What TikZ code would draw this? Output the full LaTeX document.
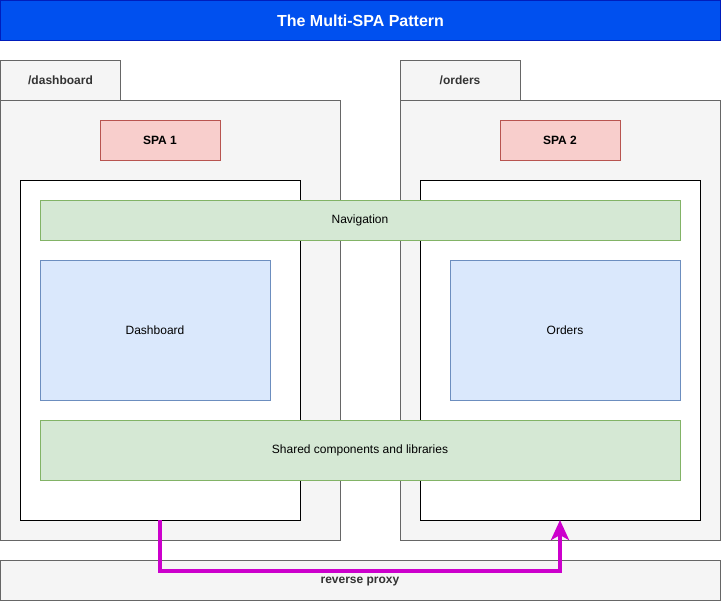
\documentclass[tikz,border=0pt]{standalone}
\usepackage{fontspec}
\setmainfont{Liberation Sans}
\usetikzlibrary{arrows.meta}
\definecolor{titlefill}{HTML}{0050EF}
\definecolor{titledraw}{HTML}{001DBC}
\definecolor{grayfill}{HTML}{F5F5F5}
\definecolor{graydraw}{HTML}{666666}
\definecolor{redfill}{HTML}{F8CECC}
\definecolor{reddraw}{HTML}{B85450}
\definecolor{greenfill}{HTML}{D5E8D4}
\definecolor{greendraw}{HTML}{82B366}
\definecolor{bluefill}{HTML}{DAE8FC}
\definecolor{bluedraw}{HTML}{6C8EBF}
\definecolor{magentaline}{HTML}{CC00CC}
\definecolor{darktext}{HTML}{333333}
\tikzset{
  box/.style={rectangle, inner sep=0pt, outer sep=0pt, line width=0.8pt, anchor=north west, font=\fontsize{12}{14}\selectfont},
  graybox/.style={box, fill=grayfill, draw=graydraw, text=darktext, font=\fontsize{12}{14}\selectfont\bfseries},
  redbox/.style={box, fill=redfill, draw=reddraw, font=\fontsize{12}{14}\selectfont\bfseries},
  greenbox/.style={box, fill=greenfill, draw=greendraw},
  bluebox/.style={box, fill=bluefill, draw=bluedraw},
  whitebox/.style={box, fill=white, draw=black},
  titlebox/.style={box, fill=titlefill, draw=titledraw, text=white, font=\fontsize{16}{18}\selectfont\bfseries},
  proxyline/.style={draw=magentaline, line width=4pt, -{Stealth[length=20pt,width=18pt,inset=5pt]}}
}
\begin{document}
\begin{tikzpicture}[x=1pt,y=-1pt]
\useasboundingbox (0,0) rectangle (722,602);
% title
\node[titlebox, minimum width=720pt, minimum height=40pt] (title) at (0.5,0.5) {The Multi-SPA Pattern};
% left
\node[graybox, minimum width=120pt, minimum height=40pt] (tabL) at (0.5,60) {/dashboard};
\node[graybox, minimum width=340pt, minimum height=440pt] (contL) at (0.5,100) {};
\node[redbox, minimum width=120pt, minimum height=40pt] (spa1) at (100,120) {SPA 1};
\node[whitebox, minimum width=280pt, minimum height=340pt] (appL) at (20,180) {};
% right
\node[graybox, minimum width=120pt, minimum height=40pt] (tabR) at (400,60) {/orders};
\node[graybox, minimum width=320pt, minimum height=440pt] (contR) at (400,100) {};
\node[redbox, minimum width=120pt, minimum height=40pt] (spa2) at (500,120) {SPA 2};
\node[whitebox, minimum width=280pt, minimum height=340pt] (appR) at (420,180) {};
% shared
\node[greenbox, minimum width=640pt, minimum height=40pt] (nav) at (40,200) {Navigation};
\node[bluebox, minimum width=230pt, minimum height=140pt] (dash) at (40,260) {Dashboard};
\node[bluebox, minimum width=230pt, minimum height=140pt] (orders) at (450,260) {Orders};
\node[greenbox, minimum width=640pt, minimum height=60pt] (shared) at (40,420) {Shared components and libraries};
% proxy
\node[graybox, minimum width=720pt, minimum height=40pt] (proxy) at (0.5,560) {};
\node[text=darktext, font=\fontsize{12}{14}\selectfont\bfseries, inner sep=0pt] (proxylabel) at (360,581) {reverse proxy};
\coordinate (p1) at (160,571);
\coordinate (p2) at (560,571);
\draw[proxyline] (appL.south -| p1) -- (p1) -- (p2) -- (appR.south -| p2);
\end{tikzpicture}
\end{document}
